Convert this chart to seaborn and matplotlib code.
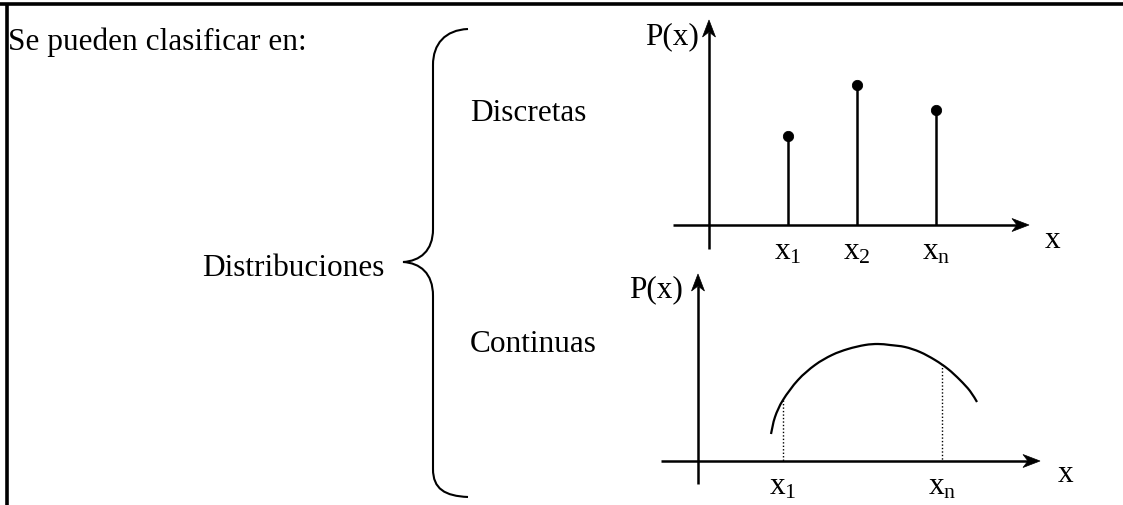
import numpy as np
import pandas as pd
import seaborn as sns
import matplotlib
matplotlib.use("Agg")
import matplotlib.pyplot as plt
from matplotlib.path import Path
from matplotlib.patches import PathPatch

sns.set_theme(style="white")
plt.rcParams['font.family'] = ['Liberation Serif', 'DejaVu Serif']
plt.rcParams['text.color'] = 'black'
plt.rcParams['mathtext.fontset'] = 'custom'
plt.rcParams['mathtext.rm'] = 'Liberation Serif'
plt.rcParams['mathtext.it'] = 'Liberation Serif:italic'

# ---- data (pixel-space diagram coordinates) ----
intro_text = "Se pueden clasificar en:"
root_label = "Distribuciones"
branch_labels = ["Discretas", "Continuas"]

# discrete distribution: stem positions and tops
disc_ticks = [r"$\mathregular{x_1}$", r"$\mathregular{x_2}$", r"$\mathregular{x_n}$"]
disc_x = [788, 857, 936]
disc_top = [137, 86, 111]

# continuous distribution curve
cont_x = [771, 775, 783, 798, 815, 832, 848, 865, 878, 890, 905, 920, 935, 948, 960, 970, 977]
cont_y = [435, 418, 401, 381, 366, 356, 350, 346, 345, 346, 348, 353, 361, 370, 381, 392, 403]
cont_ticks = [r"$\mathregular{x_1}$", r"$\mathregular{x_n}$"]
cont_tick_x = [783, 942]
cont_tick_y = [401, 365]

W, H = 1123, 506
fig = plt.figure(figsize=(W / 100, H / 100), dpi=100)
fig.patch.set_facecolor("white")
ax = fig.add_axes([0, 0, 1, 1])
ax.set_xlim(0, W)
ax.set_ylim(H, 0)
ax.axis("off")

FS = 22.5
k = "black"

# frame (top and left border)
ax.plot([0, W], [4.5, 4.5], color=k, lw=2.6, solid_capstyle="butt")
ax.plot([7, 7], [3.5, H], color=k, lw=2.6, solid_capstyle="butt")

# texts
ax.text(8, 42, intro_text, fontsize=FS, va="center", ha="left")
ax.text(202, 268, root_label, fontsize=FS, va="center", ha="left")
ax.text(470, 113, branch_labels[0], fontsize=FS, va="center", ha="left")
ax.text(470, 345, branch_labels[1], fontsize=FS, va="center", ha="left")

# brace
verts = [(468, 30), (445, 31), (433, 45), (433, 66),
         (433, 230),
         (433, 252), (420, 262), (403, 263),
         (420, 264), (433, 274), (433, 297),
         (433, 470),
         (433, 490), (445, 497), (468, 498)]
codes = [Path.MOVETO, Path.CURVE4, Path.CURVE4, Path.CURVE4,
         Path.LINETO,
         Path.CURVE4, Path.CURVE4, Path.CURVE4,
         Path.CURVE4, Path.CURVE4, Path.CURVE4,
         Path.LINETO,
         Path.CURVE4, Path.CURVE4, Path.CURVE4]
ax.add_patch(PathPatch(Path(verts, codes), fill=False, lw=1.5, color=k))

def arrow(x0, y0, x1, y1, hl=17, hw=6.5, notch=5):
    d = np.array([x1 - x0, y1 - y0], float)
    L = np.hypot(*d)
    u = d / L
    n = np.array([-u[1], u[0]])
    tip = np.array([x1, y1], float)
    base = tip - u * hl
    ax.plot([x0, (tip - u * (hl - notch))[0]], [y0, (tip - u * (hl - notch))[1]],
            color=k, lw=1.8, solid_capstyle="butt")
    poly = np.array([tip, base + n * hw, tip - u * (hl - notch), base - n * hw])
    ax.fill(poly[:, 0], poly[:, 1], color=k, lw=0.5, ec=k)

# ---- top (discrete) chart ----
arrow(709, 250, 709, 21)
arrow(673, 226, 1029, 226)
ax.text(699, 37, "P(x)", fontsize=FS, va="center", ha="right")
ax.text(1045, 240, "x", fontsize=FS, va="center", ha="left")
ax.vlines(disc_x, disc_top, [226] * 3, color=k, lw=1.8)
sns.scatterplot(x=disc_x, y=disc_top, ax=ax, color=k, s=55, edgecolor=k, zorder=5)
for xv, lab in zip(disc_x, disc_ticks):
    ax.text(xv, 252, lab, fontsize=FS, va="center", ha="center")

# ---- bottom (continuous) chart ----
arrow(698, 485, 698, 275)
arrow(661, 462, 1040, 462)
ax.text(683, 290, "P(x)", fontsize=FS, va="center", ha="right")
ax.text(1058, 475, "x", fontsize=FS, va="center", ha="left")

pts = np.column_stack([cont_x, cont_y]).astype(float)
P = np.vstack([pts[0], pts, pts[-1]])
cv = [tuple(pts[0])]
cc = [Path.MOVETO]
for i in range(1, len(P) - 2):
    c1 = P[i] + (P[i + 1] - P[i - 1]) / 6
    c2 = P[i + 1] - (P[i + 2] - P[i]) / 6
    cv += [tuple(c1), tuple(c2), tuple(P[i + 1])]
    cc += [Path.CURVE4] * 3
ax.add_patch(PathPatch(Path(cv, cc), fill=False, lw=1.6, color=k))

ax.vlines(cont_tick_x, cont_tick_y, [462] * 2, color=k, lw=1.0, linestyles=(0, (1, 1.5)))
for xv, lab in zip(cont_tick_x, cont_ticks):
    ax.text(xv, 487, lab, fontsize=FS, va="center", ha="center")

fig.savefig("out.png", dpi=100, facecolor="white")
